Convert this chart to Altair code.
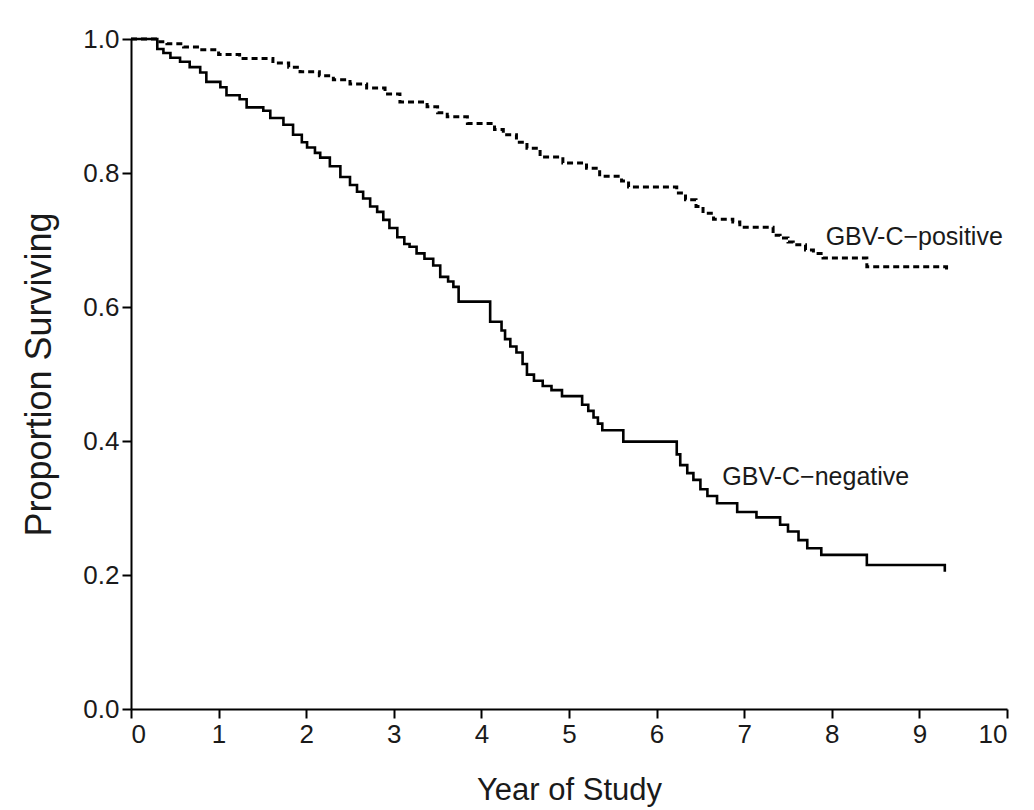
import altair as alt
import pandas as pd

# GBV-C-negative (solid step curve)
neg_t = [0.00, 0.30, 0.37, 0.45, 0.56, 0.67, 0.79, 0.86, 1.02, 1.09, 1.24, 1.32, 1.51, 1.59,
         1.74, 1.85, 1.95, 2.01, 2.10, 2.16, 2.27, 2.39, 2.50, 2.58, 2.65, 2.73, 2.81, 2.88,
         2.95, 3.04, 3.12, 3.18, 3.26, 3.35, 3.45, 3.53, 3.62, 3.68, 3.74, 4.10, 4.23, 4.27,
         4.33, 4.40, 4.47, 4.52, 4.60, 4.70, 4.80, 4.92, 5.15, 5.22, 5.28, 5.33, 5.38, 5.62,
         6.23, 6.27, 6.35, 6.42, 6.50, 6.58, 6.69, 6.92, 7.14, 7.41, 7.50, 7.62, 7.72, 7.88,
         8.40, 9.29]
neg_s = [1.000, 0.985, 0.979, 0.972, 0.966, 0.958, 0.950, 0.936, 0.928, 0.916, 0.910, 0.898,
         0.893, 0.882, 0.872, 0.857, 0.846, 0.838, 0.830, 0.823, 0.810, 0.794, 0.782, 0.772,
         0.762, 0.750, 0.742, 0.730, 0.718, 0.704, 0.694, 0.690, 0.680, 0.672, 0.662, 0.645,
         0.638, 0.630, 0.608, 0.578, 0.565, 0.552, 0.541, 0.532, 0.515, 0.499, 0.490, 0.482,
         0.476, 0.467, 0.454, 0.445, 0.435, 0.426, 0.416, 0.399, 0.380, 0.364, 0.352, 0.342,
         0.328, 0.318, 0.307, 0.294, 0.286, 0.275, 0.265, 0.252, 0.240, 0.230, 0.215, 0.205]

# GBV-C-positive (dotted step curve)
pos_t = [0.00, 0.30, 0.41, 0.60, 0.79, 1.00, 1.24, 1.62, 1.80, 1.93, 2.15, 2.31, 2.50, 2.69,
         2.90, 3.07, 3.38, 3.50, 3.61, 3.84, 4.15, 4.25, 4.40, 4.52, 4.67, 4.93, 5.20, 5.35,
         5.60, 5.68, 6.23, 6.33, 6.45, 6.53, 6.65, 6.87, 6.95, 7.33, 7.41, 7.50, 7.56, 7.70,
         7.79, 7.90, 8.40, 9.31]
pos_s = [1.000, 0.996, 0.993, 0.988, 0.984, 0.977, 0.971, 0.964, 0.958, 0.951, 0.945, 0.939,
         0.933, 0.927, 0.918, 0.906, 0.899, 0.890, 0.884, 0.874, 0.865, 0.857, 0.846, 0.837,
         0.824, 0.815, 0.807, 0.795, 0.788, 0.779, 0.770, 0.760, 0.750, 0.740, 0.731, 0.727,
         0.719, 0.707, 0.703, 0.697, 0.693, 0.685, 0.680, 0.673, 0.660, 0.651]

label_text = ["GBV-C\u2212positive", "GBV-C\u2212negative"]
label_x = [7.93, 6.75]
label_y = [0.705, 0.346]

x_ticks = [0, 1, 2, 3, 4, 5, 6, 7, 8, 9, 10]
y_ticks = [0.0, 0.2, 0.4, 0.6, 0.8, 1.0]

FONT = "Liberation Sans"

neg_df = pd.DataFrame({"year": neg_t, "surv": neg_s})
pos_df = pd.DataFrame({"year": pos_t, "surv": pos_s})
lab_df = pd.DataFrame({"year": label_x, "surv": label_y, "text": label_text})

x_scale = alt.Scale(domain=[0, 10], nice=False, zero=True)
y_scale = alt.Scale(domain=[0, 1], nice=False)

x_axis = alt.Axis(values=x_ticks, format="d", title="Year of Study", grid=False,
                  titleFontSize=31, titlePadding=28)
y_axis = alt.Axis(values=y_ticks, format=".1f", title="Proportion Surviving", grid=False,
                  titleFontSize=36, titlePadding=24)

neg_line = alt.Chart(neg_df).mark_line(
    interpolate="step-after", color="black", strokeWidth=2.6, strokeJoin="miter"
).encode(
    x=alt.X("year:Q", scale=x_scale, axis=x_axis),
    y=alt.Y("surv:Q", scale=y_scale, axis=y_axis),
)

pos_line = alt.Chart(pos_df).mark_line(
    interpolate="step-after", color="black", strokeWidth=3, strokeDash=[6, 4]
).encode(
    x=alt.X("year:Q", scale=x_scale, axis=x_axis),
    y=alt.Y("surv:Q", scale=y_scale, axis=y_axis),
)

labels = alt.Chart(lab_df).mark_text(
    align="left", baseline="middle", font=FONT, fontSize=25, color="#1a1a1a"
).encode(
    x=alt.X("year:Q", scale=x_scale),
    y=alt.Y("surv:Q", scale=y_scale),
    text="text:N",
)

chart = alt.layer(neg_line, pos_line, labels).properties(
    width=876,
    height=670,
    autosize=alt.AutoSizeParams(type="none"),
    padding={"left": 123, "top": 31, "right": 10, "bottom": 100},
    background="white",
).configure_view(
    stroke=None
).configure_axis(
    domainColor="black",
    domainWidth=2,
    tickColor="black",
    tickWidth=2,
    tickSize=9,
    labelFont=FONT,
    labelFontSize=26,
    labelColor="#1a1a1a",
    labelPadding=3,
    titleFont=FONT,
    titleFontWeight="normal",
    titleColor="#1a1a1a",
)

chart.save("out.html", embed_options={"renderer": "svg", "actions": False})
